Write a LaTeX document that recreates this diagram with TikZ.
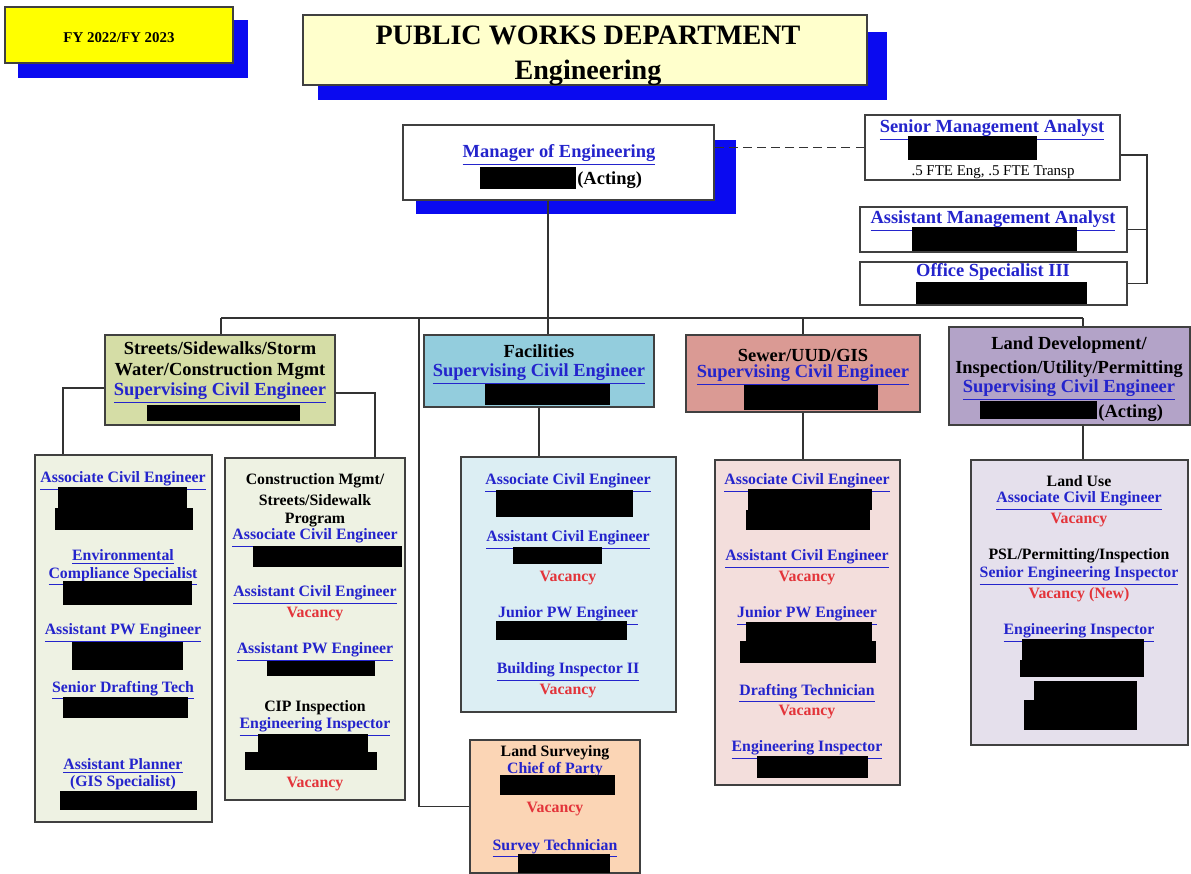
\documentclass[tikz,border=0pt]{standalone}
\usepackage{fontspec}
\setmainfont{Liberation Serif}
\usetikzlibrary{positioning, fit}

\definecolor{lnkblue}{HTML}{2424CC}
\definecolor{vacred}{HTML}{E3343A}
\definecolor{shblue}{HTML}{0A0AF0}
\definecolor{fyyellow}{HTML}{FFFF00}
\definecolor{titlefill}{HTML}{FFFFCC}
\definecolor{strhead}{HTML}{D5DDA6}
\definecolor{strcol}{HTML}{EEF2E3}
\definecolor{fachead}{HTML}{93CDDD}
\definecolor{faccol}{HTML}{DCEEF3}
\definecolor{sewhead}{HTML}{DA9A94}
\definecolor{sewcol}{HTML}{F3DEDC}
\definecolor{landhead}{HTML}{B3A3C8}
\definecolor{landcol}{HTML}{E5E0EC}
\definecolor{survfill}{HTML}{FBD5B5}

\newcommand\lk[1]{\textcolor{lnkblue}{\underline{#1}}}
\newcommand\vac[1]{\textcolor{vacred}{#1}}

\begin{document}
\begin{tikzpicture}[x=0.02cm, y=-0.02cm]
\tikzset{
    orgbox/.style={rectangle, draw=black!75, line width=0.8pt, inner sep=0pt},
    shadowbox/.style={fill=shblue},
    redact/.style={fill=black},
    txt/.style={font=\bfseries\fontsize{9}{10.8}\selectfont, align=center, inner sep=0pt, yshift=-0.06cm},
    hdtxt/.style={font=\bfseries\fontsize{10.5}{12}\selectfont, align=center, inner sep=0pt, yshift=-0.06cm},
    conn/.style={draw=black!80, line width=0.6pt}
}
\useasboundingbox (0,0) rectangle (1191,873);

% top banners
\fill[shadowbox] (18,20) rectangle (248,78);
\node[orgbox, fill=fyyellow, fit={(5,7) (233,63)}] (fy) {};
\node[txt, font=\bfseries\fontsize{8.5}{10}\selectfont] (fy_txt) at (fy.center) {FY 2022/FY 2023};
\fill[shadowbox] (318,32) rectangle (887,100);
\node[orgbox, fill=titlefill, fit={(303,15) (867,85)}] (title) {};
\node[font=\bfseries\fontsize{16}{20}\selectfont, align=center, inner sep=0pt] (title_txt) at (588,56) {PUBLIC WORKS DEPARTMENT\\Engineering};

% manager and staff
\fill[shadowbox] (416,140) rectangle (736,214);
\node[orgbox, fill=white, fit={(403,125) (714,200)}] (mgr) {};
\node[hdtxt] (mgr_t) at (559,152) {\lk{Manager of Engineering}};
\node[hdtxt, anchor=west] (mgr_act) at (577,177) {(Acting)};
\fill[redact] (480,167) rectangle (576,189);

\node[orgbox, fill=white, fit={(865,115) (1120,180)}] (sma) {};
\node[hdtxt] (sma_t) at (992,127) {\lk{Senior Management Analyst}};
\node[inner sep=0pt, font=\fontsize{8.5}{10}\selectfont, yshift=-0.04cm] (sma_fte) at (993,170) {.5 FTE Eng, .5 FTE Transp};
\fill[redact] (908,136) rectangle (1037,160);

\node[orgbox, fill=white, fit={(860,207) (1127,252)}] (ama) {};
\node[hdtxt] (ama_t) at (993,218) {\lk{Assistant Management Analyst}};
\fill[redact] (912,227) rectangle (1077,251);

\node[orgbox, fill=white, fit={(860,262) (1127,305)}] (ospec) {};
\node[hdtxt] (ospec_t) at (993,271) {\lk{Office Specialist III}};
\fill[redact] (916,282) rectangle (1087,304);

% divisions
\node[orgbox, fill=strhead, fit={(105,335) (335,425)}] (str) {};
\node[hdtxt] (str_a) at (220,345) {Streets/Sidewalks/Storm};
\node[hdtxt] (str_b) at (220,368) {Water/Construction Mgmt};
\node[hdtxt] (str_c) at (220,390) {\lk{Supervising Civil Engineer}};
\fill[redact] (147,405) rectangle (300,421);

\node[orgbox, fill=fachead, fit={(424,335) (654,407)}] (fac) {};
\node[hdtxt] (fac_a) at (539,348) {Facilities};
\node[hdtxt] (fac_b) at (539,371) {\lk{Supervising Civil Engineer}};
\fill[redact] (485,384) rectangle (610,405);

\node[orgbox, fill=sewhead, fit={(686,335) (920,412)}] (sew) {};
\node[hdtxt] (sew_a) at (803,352) {Sewer/UUD/GIS};
\node[hdtxt] (sew_b) at (803,372) {\lk{Supervising Civil Engineer}};
\fill[redact] (744,385) rectangle (878,410);

\node[orgbox, fill=landhead, fit={(949,327) (1190,425)}] (land) {};
\node[hdtxt] (land_a) at (1069,342) {Land Development/};
\node[hdtxt] (land_b) at (1069,366) {Inspection/Utility/Permitting};
\node[hdtxt] (land_c) at (1069,387) {\lk{Supervising Civil Engineer}};
\node[hdtxt, anchor=west] (land_act) at (1098,410) {(Acting)};
\fill[redact] (980,401) rectangle (1097,419);

% staff columns
\node[orgbox, fill=strcol, fit={(35,455) (212,822)}] (colA) {};
\node[txt] (colA_1) at (123,478) {\lk{Associate Civil Engineer}};
\node[txt] (colA_2) at (123,554) {\lk{Environmental}};
\node[txt] (colA_3) at (123,573) {\lk{Compliance Specialist}};
\node[txt] (colA_4) at (123,630) {\lk{Assistant PW Engineer}};
\node[txt] (colA_5) at (123,687) {\lk{Senior Drafting Tech}};
\node[txt] (colA_6) at (123,763) {\lk{Assistant Planner}};
\node[txt] (colA_7) at (123,781) {\lk{(GIS Specialist)}};
\fill[redact] (58,487) rectangle (187,508);
\fill[redact] (55,508) rectangle (193,530);
\fill[redact] (63,581) rectangle (192,605);
\fill[redact] (72,642) rectangle (183,670);
\fill[redact] (63,697) rectangle (188,718);
\fill[redact] (60,791) rectangle (197,810);

\node[orgbox, fill=strcol, fit={(225,458) (405,800)}] (colB) {};
\node[txt] (colB_1) at (315,478) {Construction Mgmt/};
\node[txt] (colB_2) at (315,497) {Streets/Sidewalk};
\node[txt] (colB_3) at (315,517) {Program};
\node[txt] (colB_4) at (315,535) {\lk{Associate Civil Engineer}};
\node[txt] (colB_5) at (315,592) {\lk{Assistant Civil Engineer}};
\node[txt] (colB_6) at (315,611) {\vac{Vacancy}};
\node[txt] (colB_7) at (315,649) {\lk{Assistant PW Engineer}};
\node[txt] (colB_8) at (315,705) {CIP Inspection};
\node[txt] (colB_9) at (315,724) {\lk{Engineering Inspector}};
\node[txt] (colB_10) at (315,781) {\vac{Vacancy}};
\fill[redact] (253,546) rectangle (402,567);
\fill[redact] (267,661) rectangle (375,676);
\fill[redact] (258,734) rectangle (368,752);
\fill[redact] (245,752) rectangle (377,770);

\node[orgbox, fill=faccol, fit={(461,457) (676,712)}] (colC) {};
\node[txt] (colC_1) at (568,480) {\lk{Associate Civil Engineer}};
\node[txt] (colC_2) at (568,537) {\lk{Assistant Civil Engineer}};
\node[txt] (colC_3) at (568,575) {\vac{Vacancy}};
\node[txt] (colC_4) at (568,613) {\lk{Junior PW Engineer}};
\node[txt] (colC_5) at (568,669) {\lk{Building Inspector II}};
\node[txt] (colC_6) at (568,688) {\vac{Vacancy}};
\fill[redact] (496,490) rectangle (633,517);
\fill[redact] (513,547) rectangle (602,564);
\fill[redact] (496,621) rectangle (627,640);

\node[orgbox, fill=survfill, fit={(470,740) (640,873)}] (surv) {};
\node[txt] (surv_1) at (555,750) {Land Surveying};
\node[txt] (surv_2) at (555,768) {\lk{Chief of Party}};
\node[txt] (surv_3) at (555,806) {\vac{Vacancy}};
\node[txt] (surv_4) at (555,845) {\lk{Survey Technician}};
\fill[redact] (500,775) rectangle (615,795);
\fill[redact] (518,854) rectangle (610,873);

\node[orgbox, fill=sewcol, fit={(715,460) (900,785)}] (colD) {};
\node[txt] (colD_1) at (807,480) {\lk{Associate Civil Engineer}};
\node[txt] (colD_2) at (807,556) {\lk{Assistant Civil Engineer}};
\node[txt] (colD_3) at (807,575) {\vac{Vacancy}};
\node[txt] (colD_4) at (807,613) {\lk{Junior PW Engineer}};
\node[txt] (colD_5) at (807,690) {\lk{Drafting Technician}};
\node[txt] (colD_6) at (807,709) {\vac{Vacancy}};
\node[txt] (colD_7) at (807,747) {\lk{Engineering Inspector}};
\fill[redact] (748,489) rectangle (872,510);
\fill[redact] (746,510) rectangle (870,530);
\fill[redact] (746,622) rectangle (872,641);
\fill[redact] (740,641) rectangle (876,663);
\fill[redact] (757,756) rectangle (868,778);

\node[orgbox, fill=landcol, fit={(971,460) (1188,745)}] (colE) {};
\node[txt] (colE_1) at (1079,478) {Land Use};
\node[txt] (colE_2) at (1079,498) {\lk{Associate Civil Engineer}};
\node[txt] (colE_3) at (1079,517) {\vac{Vacancy}};
\node[txt] (colE_4) at (1079,553) {PSL/Permitting/Inspection};
\node[txt] (colE_5) at (1079,573) {\lk{Senior Engineering Inspector}};
\node[txt] (colE_6) at (1079,592) {\vac{Vacancy (New)}};
\node[txt] (colE_7) at (1079,630) {\lk{Engineering Inspector}};
\fill[redact] (1022,639) rectangle (1144,660);
\fill[redact] (1020,660) rectangle (1144,677);
\fill[redact] (1034,681) rectangle (1137,703);
\fill[redact] (1024,700) rectangle (1137,730);

% connectors
\coordinate (trunk) at (548,318);
\coordinate (busL) at (221,318);
\coordinate (busR) at (1083,318);
\coordinate (busS) at (419,318);
\coordinate (rk) at (1147,155);
\coordinate (sl) at (63,388);
\coordinate (sr) at (375,393);
\draw[conn, dash pattern=on 5pt off 3pt] (sma.west) -- (sma.west -| mgr.east);
\draw[conn] (sma.east |- rk) -- (rk) |- (ospec.east);
\draw[conn] (ama.east) -- (ama.east -| rk);
\draw[conn] (trunk |- mgr.south) -- (trunk |- fac.north);
\draw[conn] (busL) -- (busR);
\draw[conn] (busL) -- (busL |- str.north);
\draw[conn] (busR) -- (busR |- land.north);
\draw[conn] (sew.north |- busL) -- (sew.north);
\draw[conn] (busS) |- (surv.west);
\draw[conn] (str.west |- sl) -| (colA.north -| sl);
\draw[conn] (str.east |- sr) -| (colB.north -| sr);
\draw[conn] (fac.south) -- (fac.south |- colC.north);
\draw[conn] (sew.south) -- (sew.south |- colD.north);
\draw[conn] (land.south -| busR) -- (colE.north -| busR);
\end{tikzpicture}
\end{document}
